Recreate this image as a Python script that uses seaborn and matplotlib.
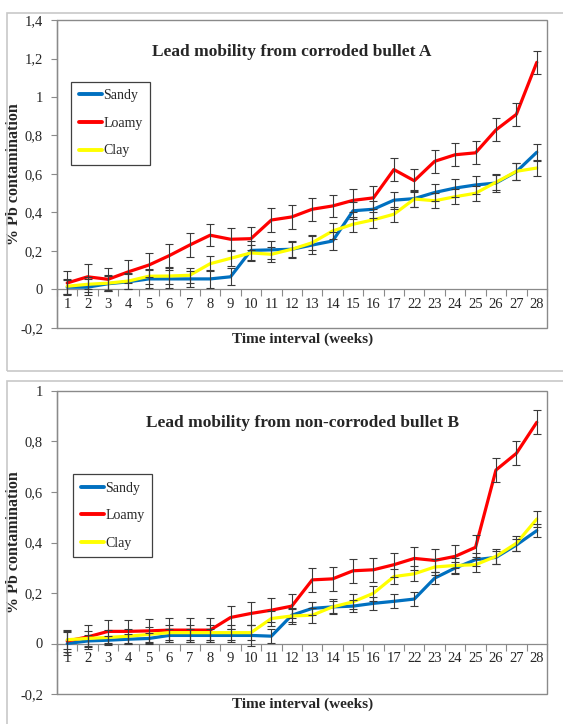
import numpy as np
import pandas as pd
import matplotlib
matplotlib.use('Agg')
import matplotlib.pyplot as plt
import seaborn as sns
from matplotlib.patches import Rectangle

# x categories (weeks)
weeks = ['1', '2', '3', '4', '5', '6', '7', '8', '9', '10', '11', '12', '13', '14',
         '15', '16', '17', '22', '23', '24', '25', '26', '27', '28']
soils = ['Sandy', 'Loamy', 'Clay']

# corroded bullet A
sandy_a = [0.012, 0.012, 0.03, 0.04, 0.055, 0.055, 0.055, 0.055, 0.066, 0.203, 0.206, 0.209,
           0.231, 0.252, 0.409, 0.417, 0.464, 0.472, 0.504, 0.527, 0.543, 0.553, 0.612, 0.713]
loamy_a = [0.034, 0.066, 0.053, 0.092, 0.127, 0.176, 0.231, 0.282, 0.261, 0.264, 0.361, 0.377,
           0.417, 0.434, 0.463, 0.476, 0.623, 0.565, 0.666, 0.700, 0.710, 0.829, 0.910, 1.180]
clay_a = [0.017, 0.027, 0.033, 0.044, 0.069, 0.070, 0.074, 0.134, 0.162, 0.190, 0.183, 0.209,
          0.243, 0.304, 0.339, 0.362, 0.391, 0.470, 0.461, 0.482, 0.500, 0.557, 0.614, 0.631]
sandy_a_err = [0.035, 0.04, 0.04, 0.04, 0.045, 0.045, 0.04, 0.045, 0.045, 0.05, 0.045, 0.045,
               0.045, 0.045, 0.045, 0.045, 0.045, 0.045, 0.045, 0.045, 0.045, 0.045, 0.045, 0.045]
loamy_a_err = [0.06, 0.065, 0.057, 0.06, 0.062, 0.058, 0.06, 0.057, 0.057, 0.06, 0.06, 0.062,
               0.06, 0.058, 0.06, 0.06, 0.06, 0.06, 0.06, 0.06, 0.06, 0.06, 0.06, 0.06]
clay_a_err = [0.04, 0.04, 0.04, 0.04, 0.04, 0.04, 0.04, 0.04, 0.04, 0.04, 0.04, 0.04,
              0.04, 0.04, 0.04, 0.04, 0.04, 0.04, 0.04, 0.04, 0.04, 0.04, 0.045, 0.04]

# non-corroded bullet B
sandy_b = [0.0, 0.01, 0.013, 0.017, 0.02, 0.032, 0.032, 0.032, 0.032, 0.032, 0.029, 0.112,
           0.139, 0.145, 0.148, 0.159, 0.167, 0.176, 0.259, 0.299, 0.332, 0.341, 0.390, 0.447]
loamy_b = [0.01, 0.026, 0.048, 0.048, 0.05, 0.053, 0.053, 0.053, 0.103, 0.119, 0.132, 0.148,
           0.252, 0.256, 0.288, 0.292, 0.312, 0.337, 0.329, 0.345, 0.381, 0.687, 0.753, 0.876]
clay_b = [0.015, 0.02, 0.024, 0.029, 0.036, 0.043, 0.043, 0.043, 0.043, 0.043, 0.099, 0.109,
          0.112, 0.145, 0.165, 0.199, 0.265, 0.276, 0.303, 0.309, 0.312, 0.345, 0.397, 0.493]
sandy_b_err = [0.045, 0.025, 0.015, 0.02, 0.02, 0.025, 0.025, 0.025, 0.025, 0.04, 0.028, 0.025,
               0.025, 0.025, 0.025, 0.025, 0.028, 0.028, 0.025, 0.025, 0.025, 0.025, 0.025, 0.025]
loamy_b_err = [0.045, 0.047, 0.047, 0.047, 0.047, 0.047, 0.047, 0.047, 0.047, 0.047, 0.047, 0.047,
               0.047, 0.047, 0.047, 0.047, 0.047, 0.047, 0.047, 0.047, 0.047, 0.047, 0.047, 0.047]
clay_b_err = [0.035, 0.03, 0.03, 0.03, 0.03, 0.03, 0.03, 0.03, 0.03, 0.03, 0.03, 0.03,
              0.03, 0.03, 0.03, 0.03, 0.03, 0.03, 0.03, 0.03, 0.03, 0.03, 0.03, 0.03]

yticks_a = [-0.2, 0, 0.2, 0.4, 0.6, 0.8, 1.0, 1.2, 1.4]
ylabels_a = ['-0,2', '0', '0,2', '0,4', '0,6', '0,8', '1', '1,2', '1,4']
yticks_b = [-0.2, 0, 0.2, 0.4, 0.6, 0.8, 1.0]
ylabels_b = ['-0,2', '0', '0,2', '0,4', '0,6', '0,8', '1']

title_a = 'Lead mobility from corroded bullet A'
title_b = 'Lead mobility from non-corroded bullet B'

colors = {'Sandy': '#0070C0', 'Loamy': '#FF0000', 'Clay': '#FFFF00'}
gray = '#8a8a8a'
text_col = '#262626'

sns.set_style('white')
plt.rcParams['font.family'] = ['Liberation Serif', 'DejaVu Serif']


def make_df(values, errors):
    rows = []
    for soil, vals, errs in zip(soils, values, errors):
        for i, (w, v, e) in enumerate(zip(weeks, vals, errs)):
            rows.append({'soil': soil, 'pos': i, 'week': w, 'value': v, 'err': e})
    return pd.DataFrame(rows)


def draw_panel(ax, df, yticks, ylabels, title, title_xy, legend_xy):
    sns.lineplot(data=df, x='pos', y='value', hue='soil', hue_order=soils,
                 palette=colors, lw=2.3, errorbar=None, ax=ax, zorder=3)
    handles, labels = ax.get_legend_handles_labels()

    for soil in soils:
        d = df[df['soil'] == soil]
        ax.errorbar(d['pos'], d['value'], yerr=d['err'], fmt='none',
                    ecolor='#3a3a3a', elinewidth=0.8, capsize=2.6, capthick=0.8, zorder=4)

    ax.set_xlim(-0.5, len(weeks) - 0.5)
    ax.set_ylim(yticks[0], yticks[-1])

    # y axis
    ax.set_yticks(yticks)
    ax.set_yticklabels(ylabels)
    ax.tick_params(axis='y', length=4, width=0.8, color=gray, pad=6,
                   labelsize=10.5, labelcolor=text_col, left=True)

    # x axis crosses at 0, labels in the middle of the categories
    ax.spines['bottom'].set_position(('data', 0))
    ax.set_xticks(range(len(weeks)))
    ax.set_xticklabels(weeks)
    ax.set_xticks(np.arange(-0.5, len(weeks)), minor=True)
    ax.tick_params(axis='x', which='major', length=0, pad=6, labelsize=10.5,
                   labelcolor=text_col, bottom=True)
    ax.tick_params(axis='x', which='minor', length=5, width=0.8, color=gray,
                   direction='out', bottom=True)

    for s in ['top', 'right']:
        ax.spines[s].set_visible(False)
    for s in ['left', 'bottom']:
        ax.spines[s].set_color(gray)
        ax.spines[s].set_linewidth(0.9)
    ax.add_patch(Rectangle((0, 0), 1, 1, transform=ax.transAxes, fill=False,
                           edgecolor=gray, lw=1.0, clip_on=False, zorder=1))

    ax.set_xlabel('Time interval (weeks)', fontsize=11, fontweight='bold', color=text_col)
    ax.set_ylabel('% Pb contamination', fontsize=11.5, fontweight='bold', color=text_col)
    ax.yaxis.set_label_coords(-0.072, 0.5)

    ax.text(title_xy[0], title_xy[1], title, transform=ax.transAxes, ha='center',
            va='center', fontsize=12.5, fontweight='bold', color=text_col)

    leg = ax.legend(handles, labels, loc='upper left', bbox_to_anchor=legend_xy,
                    fontsize=10, frameon=True, fancybox=False, framealpha=1,
                    edgecolor='#404040', handlelength=1.7, handletextpad=0.05,
                    labelspacing=1.05, borderpad=0.55, borderaxespad=0)
    leg.get_frame().set_linewidth(0.9)
    for line in leg.get_lines():
        line.set_linewidth(2.8)
    for t in leg.get_texts():
        t.set_color(text_col)


df_a = make_df([sandy_a, loamy_a, clay_a], [sandy_a_err, loamy_a_err, clay_a_err])
df_b = make_df([sandy_b, loamy_b, clay_b], [sandy_b_err, loamy_b_err, clay_b_err])

W, H = 563, 724
fig = plt.figure(figsize=(W / 100, H / 100), dpi=100)

# outer chart frames
fig.patches.append(Rectangle((7 / W, 1 - 371 / H), 600 / W, 358 / H,
                             transform=fig.transFigure, fill=False,
                             edgecolor='#c8c8c8', lw=1.2))
fig.patches.append(Rectangle((7 / W, 1 - 740 / H), 600 / W, 359 / H,
                             transform=fig.transFigure, fill=False,
                             edgecolor='#c8c8c8', lw=1.2))

ax_a = fig.add_axes([57 / W, 1 - 328 / H, 490 / W, 308 / H])
ax_b = fig.add_axes([57 / W, 1 - 694 / H, 490 / W, 303 / H])

draw_panel(ax_a, df_a, yticks_a, ylabels_a, title_a, (0.478, 0.896), (0.029, 0.80))
draw_panel(ax_b, df_b, yticks_b, ylabels_b, title_b, (0.502, 0.894), (0.033, 0.726))

ax_a.xaxis.set_label_coords(0.502, -0.016)
ax_b.xaxis.set_label_coords(0.502, -0.013)

fig.savefig('out.png', dpi=100)
